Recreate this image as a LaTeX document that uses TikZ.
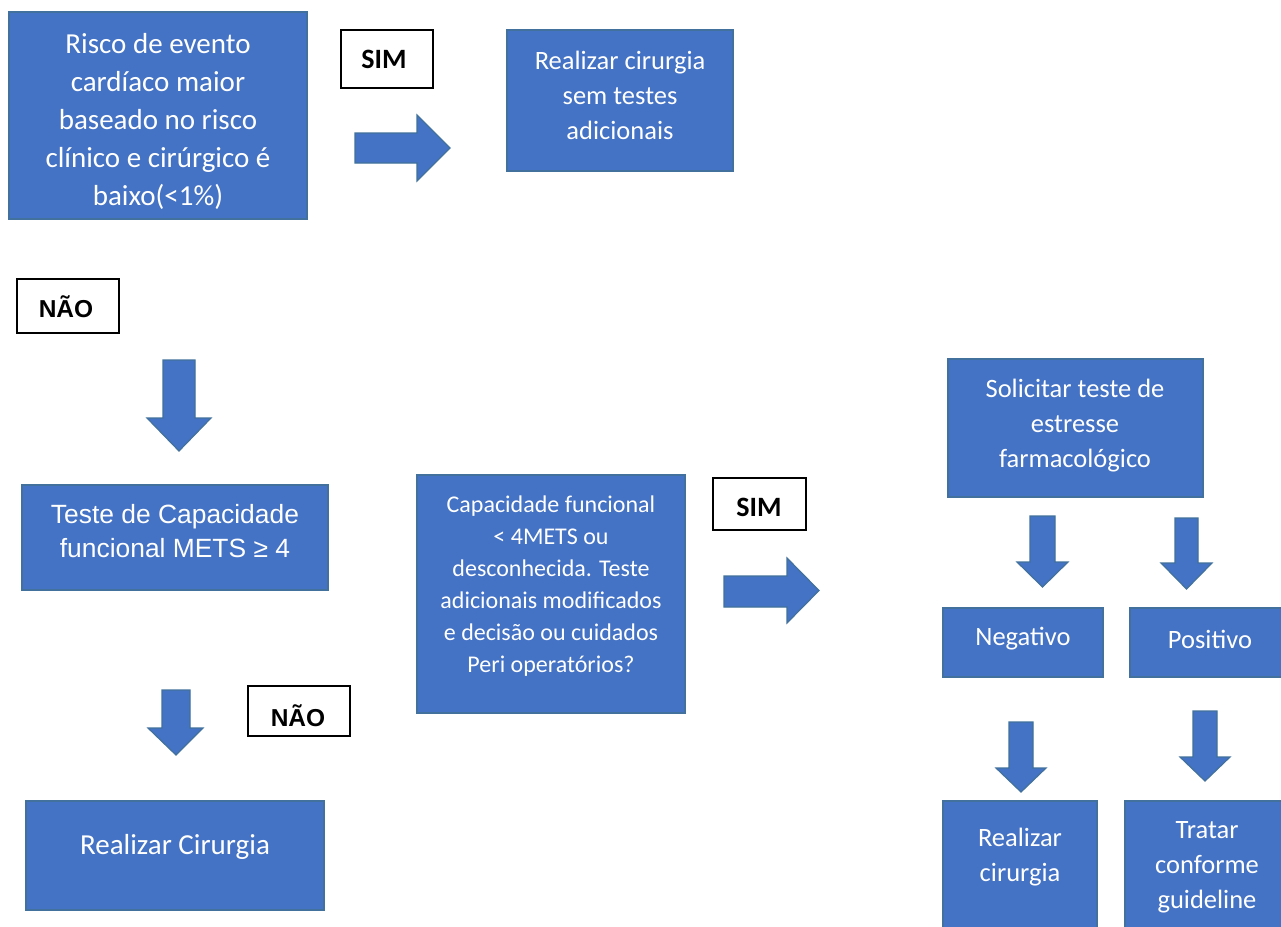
\documentclass[tikz,border=0pt]{standalone}
\usepackage{fontspec}
\setmainfont{Carlito}
\newfontfamily\arialf{Liberation Sans}
\definecolor{boxfill}{HTML}{4472C4}
\definecolor{boxline}{HTML}{41719C}
\begin{document}
\begin{tikzpicture}[x=1pt,y=-1pt,
  bluebox/.style={draw=boxline,line width=1.5pt,fill=boxfill,inner sep=0pt},
  lbl/.style={draw=black,line width=1.2pt,fill=white,inner sep=0pt},
  wtxt/.style={text=white,align=center,inner sep=0pt},
  btxt/.style={text=black,inner sep=0pt},
  barrow/.style={draw=boxline,line width=1.2pt,fill=boxfill,line join=miter}]
\useasboundingbox (0,0) rectangle (1281,926);
\fill[white] (0,0) rectangle (1281,926);

% boxes
\path[bluebox] (9,12) rectangle (307,219) coordinate (b1);
\node[wtxt,font=\fontsize{29}{38}\selectfont] (t1) at (158,121)
 {Risco de evento\\cardíaco maior\\baseado no risco\\clínico e cirúrgico é\\baixo(<1\%)};

\path[bluebox] (507,30) rectangle (733,171) coordinate (b2);
\node[wtxt,font=\fontsize{26.5}{35}\selectfont] (t2) at (620,95)
 {Realizar cirurgia\\sem testes\\adicionais};

\path[bluebox] (22,485) rectangle (328,590) coordinate (b3);
\node[wtxt,font=\arialf\fontsize{26.4}{34}\selectfont] (t3) at (175,531)
 {Teste de Capacidade\\funcional METS ≥ 4};

\path[bluebox] (26,801) rectangle (324,910) coordinate (b4);
\node[wtxt,font=\fontsize{29}{38}\selectfont] (t4) at (175,847) {Realizar Cirurgia};

\path[bluebox] (417,475) rectangle (685,713) coordinate (b5);
\node[wtxt,font=\fontsize{24}{32}\selectfont] (t5) at (551,586)
 {Capacidade funcional\\< 4METS ou\\desconhecida. Teste\\adicionais modificados\\e decisão ou cuidados\\Peri operatórios?};

\path[bluebox] (948,359) rectangle (1203,497) coordinate (b6);
\node[wtxt,font=\fontsize{26.5}{35}\selectfont] (t6) at (1075,426)
 {Solicitar teste de\\estresse\\farmacológico};

\path[bluebox] (943,608) rectangle (1103,677) coordinate (b7);
\node[wtxt,font=\fontsize{26.5}{35}\selectfont] (t7) at (1023,639) {Negativo};

\path[bluebox] (1130,608) rectangle (1290,677) coordinate (b8);
\node[wtxt,font=\fontsize{26.5}{35}\selectfont] (t8) at (1210,639) {Positivo};

\path[bluebox] (943,801) rectangle (1097,935) coordinate (b9);
\node[wtxt,font=\fontsize{26.5}{35}\selectfont] (t9) at (1020,857) {Realizar\\cirurgia};

\path[bluebox] (1125,801) rectangle (1290,935) coordinate (b10);
\node[wtxt,font=\fontsize{26.5}{35}\selectfont] (t10) at (1207,867) {Tratar\\conforme\\guideline};

% labels
\path[lbl] (341,30) rectangle (433,88) coordinate (l1);
\node[btxt,font=\bfseries\fontsize{28}{34}\selectfont] (s1) at (384,59) {SIM};
\path[lbl] (17,279) rectangle (119,333) coordinate (l2);
\node[btxt,font=\arialf\bfseries\fontsize{24.5}{30}\selectfont] (n1) at (66,307) {NÃO};
\path[lbl] (248,686) rectangle (350,736) coordinate (l3);
\node[btxt,font=\arialf\bfseries\fontsize{24.5}{30}\selectfont] (n2) at (298,716) {NÃO};
\path[lbl] (713,478) rectangle (806,530) coordinate (l4);
\node[btxt,font=\bfseries\fontsize{28}{34}\selectfont] (s2) at (759,507) {SIM};

% block arrows
\draw[barrow] (355,133) -- (417,133) -- (417,115) -- (450,148) -- (417,181) -- (417,163) -- (355,163) -- cycle;
\draw[barrow] (724,576) -- (787,576) -- (787,558) -- (819,590.5) -- (787,623) -- (787,607) -- (724,607) -- cycle;
\draw[barrow] (163,360) -- (195,360) -- (195,418) -- (211,418) -- (179,451) -- (147,418) -- (163,418) -- cycle;
\draw[barrow] (162,690) -- (190,690) -- (190,728) -- (203,728) -- (176,755) -- (148,728) -- (162,728) -- cycle;
\draw[barrow] (1030,516) -- (1055,516) -- (1055,562) -- (1068,562) -- (1042.5,587) -- (1017,562) -- (1030,562) -- cycle;
\draw[barrow] (1175,518) -- (1198,518) -- (1198,563) -- (1212,563) -- (1186.5,589) -- (1161,563) -- (1175,563) -- cycle;
\draw[barrow] (1009,722) -- (1033,722) -- (1033,768) -- (1046,768) -- (1021,792) -- (996,768) -- (1009,768) -- cycle;
\draw[barrow] (1193,711) -- (1217,711) -- (1217,757) -- (1230,757) -- (1205,781) -- (1180,757) -- (1193,757) -- cycle;
\end{tikzpicture}
\end{document}
